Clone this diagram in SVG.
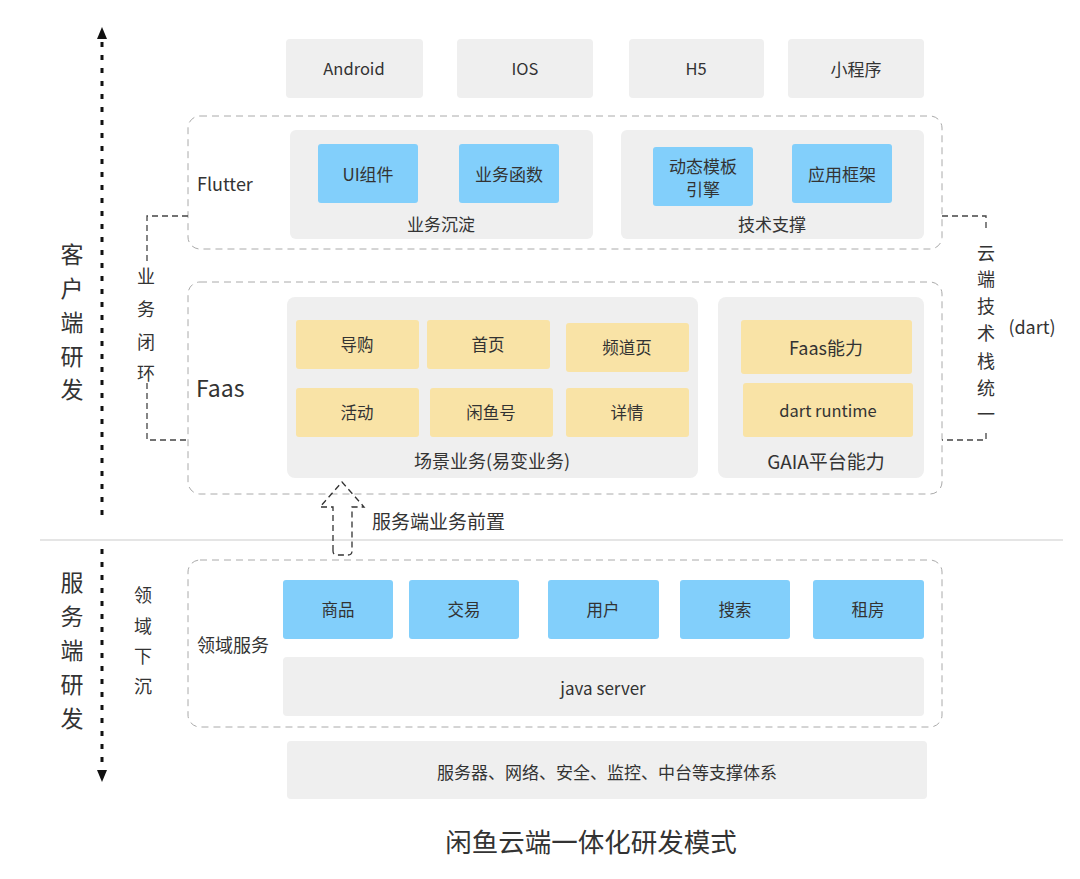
<svg xmlns="http://www.w3.org/2000/svg" width="1080" height="879" viewBox="0 0 1080 879">
<defs>
<style>
text{font-family:"Noto Sans CJK SC","Noto Sans",sans-serif;fill:#333;text-anchor:middle;dominant-baseline:central}
.g{fill:#efefef}
.b{fill:#82cffb}
.y{fill:#f9e3a6}
.c{fill:none;stroke:#aaa;stroke-width:1;stroke-dasharray:7 5}
.t{font-size:17px}
.s{font-size:16.5px}
.m{font-size:18px}
.l{text-anchor:start}
.d{fill:none;stroke:#444;stroke-width:1.3;stroke-dasharray:6 4}
.ax{fill:none;stroke:#111;stroke-width:3;stroke-dasharray:5 8}
</style>
</defs>
<rect width="1080" height="879" fill="#fff"/>

<g id="axes">
<line x1="102" y1="42" x2="102" y2="520" class="ax"/>
<polygon points="102,27 97,39 107,39" fill="#111"/>
<line x1="102" y1="549" x2="102" y2="768" class="ax"/>
<polygon points="102,782 97,770 107,770" fill="#111"/>
<line x1="40" y1="540" x2="1063" y2="540" stroke="#ccc" stroke-width="1.2"/>
<text x="72" font-size="23"><tspan x="72" y="253">客</tspan><tspan x="72" y="287">户</tspan><tspan x="72" y="321">端</tspan><tspan x="72" y="355">研</tspan><tspan x="72" y="388">发</tspan></text>
<text x="72" font-size="23"><tspan x="72" y="581">服</tspan><tspan x="72" y="615">务</tspan><tspan x="72" y="649">端</tspan><tspan x="72" y="683">研</tspan><tspan x="72" y="717">发</tspan></text>
<text x="143" font-size="18"><tspan x="143" y="594">领</tspan><tspan x="143" y="625">域</tspan><tspan x="143" y="655">下</tspan><tspan x="143" y="685">沉</tspan></text>
</g>

<g id="platforms">
<g id="android"><rect x="286" y="39" width="137" height="59" rx="4" class="g"/><text x="354" y="68" class="s">Android</text></g>
<g id="ios"><rect x="457" y="39" width="136" height="59" rx="4" class="g"/><text x="525" y="68" class="s">IOS</text></g>
<g id="h5"><rect x="629" y="39" width="135" height="59" rx="4" class="g"/><text x="696" y="68" class="s">H5</text></g>
<g id="miniprogram"><rect x="788" y="39" width="136" height="59" rx="4" class="g"/><text x="856" y="68" class="t">小程序</text></g>
</g>

<g id="flutter">
<rect x="188" y="116" width="754" height="133" rx="12" class="c"/>
<text x="197" y="183" class="m l">Flutter</text>
<g id="biz-settle">
<rect x="290" y="130" width="303" height="109" rx="6" class="g"/>
<text x="441" y="223" class="t">业务沉淀</text>
<g id="ui"><rect x="318" y="144" width="100" height="59" rx="3" class="b"/><text x="368" y="173" class="t">UI组件</text></g>
<g id="bizfunc"><rect x="459" y="144" width="100" height="59" rx="3" class="b"/><text x="509" y="173" class="t">业务函数</text></g>
</g>
<g id="tech-support">
<rect x="621" y="130" width="303" height="109" rx="6" class="g"/>
<text x="772" y="223" class="t">技术支撑</text>
<g id="engine"><rect x="653" y="147" width="100" height="59" rx="3" class="b"/><text x="703" y="165" class="t">动态模板</text><text x="703" y="188" class="t">引擎</text></g>
<g id="framework"><rect x="792" y="144" width="100" height="59" rx="3" class="b"/><text x="842" y="173" class="t">应用框架</text></g>
</g>
</g>

<g id="faas">
<rect x="188" y="282" width="754" height="212" rx="12" class="c"/>
<text x="196" y="387" font-size="23" class="l">Faas</text>
<g id="scene">
<rect x="287" y="297" width="411" height="181" rx="8" class="g"/>
<text x="492" y="460" class="m">场景业务(易变业务)</text>
<g id="daogou"><rect x="296" y="320" width="123" height="49" rx="3" class="y"/><text x="357" y="344" class="s">导购</text></g>
<g id="home"><rect x="427" y="320" width="123" height="49" rx="3" class="y"/><text x="488" y="344" class="s">首页</text></g>
<g id="channel"><rect x="566" y="323" width="123" height="49" rx="3" class="y"/><text x="627" y="347" class="s">频道页</text></g>
<g id="activity"><rect x="296" y="388" width="123" height="49" rx="3" class="y"/><text x="357" y="412" class="s">活动</text></g>
<g id="xianyuhao"><rect x="430" y="388" width="123" height="49" rx="3" class="y"/><text x="491" y="412" class="s">闲鱼号</text></g>
<g id="detail"><rect x="566" y="388" width="123" height="49" rx="3" class="y"/><text x="627" y="412" class="s">详情</text></g>
</g>
<g id="gaia">
<rect x="718" y="297" width="206" height="181" rx="8" class="g"/>
<text x="826" y="460" font-size="19">GAIA平台能力</text>
<g id="faas-cap"><rect x="741" y="320" width="171" height="54" rx="3" class="y"/><text x="826" y="347" class="m">Faas能力</text></g>
<g id="dart-rt"><rect x="743" y="383" width="170" height="54" rx="3" class="y"/><text x="828" y="410" class="s">dart runtime</text></g>
</g>
</g>

<g id="domain">
<rect x="188" y="560" width="754" height="167" rx="12" class="c"/>
<text x="197" y="644" class="m l">领域服务</text>
<g id="goods"><rect x="283" y="580" width="110" height="59" rx="3" class="b"/><text x="338" y="609" class="s">商品</text></g>
<g id="trade"><rect x="409" y="580" width="110" height="59" rx="3" class="b"/><text x="464" y="609" class="s">交易</text></g>
<g id="user"><rect x="548" y="580" width="111" height="59" rx="3" class="b"/><text x="603" y="609" class="s">用户</text></g>
<g id="search"><rect x="680" y="580" width="110" height="59" rx="3" class="b"/><text x="735" y="609" class="s">搜索</text></g>
<g id="rent"><rect x="813" y="580" width="111" height="59" rx="3" class="b"/><text x="868" y="609" class="s">租房</text></g>
<g id="java"><rect x="283" y="657" width="641" height="59" rx="4" class="g"/><text x="603" y="687" class="t">java server</text></g>
</g>

<g id="infra">
<rect x="287" y="741" width="640" height="58" rx="4" class="g"/>
<text x="607" y="771" class="t">服务器、网络、安全、监控、中台等支撑体系</text>
</g>

<g id="connectors">
<polyline points="188,216 147,216 147,262" class="d"/>
<polyline points="147,383 147,440 188,440" class="d"/>
<text x="146" font-size="18"><tspan x="146" y="275">业</tspan><tspan x="146" y="308">务</tspan><tspan x="146" y="341">闭</tspan><tspan x="146" y="372">环</tspan></text>
<polyline points="942,216 986,216 986,228" class="d"/>
<polyline points="986,433 986,440 942,440" class="d"/>
<text x="986" font-size="18"><tspan x="986" y="252">云</tspan><tspan x="986" y="278">端</tspan><tspan x="986" y="305">技</tspan><tspan x="986" y="332">术</tspan><tspan x="986" y="360">栈</tspan><tspan x="986" y="387">统</tspan><tspan x="986" y="413">一</tspan></text>
<text x="1032" y="326" class="m">(dart)</text>
<path d="M333,551 L333,507 L320,507 L342,482 L364,507 L352,507 L352,551 Q352,555 348,555 L337,555 Q333,555 333,551 Z" fill="none" stroke="#333" stroke-width="1.3" stroke-dasharray="6 4"/>
<text x="372" y="520" font-size="19" class="l">服务端业务前置</text>
</g>

<g id="title">
<text x="591" y="840" font-size="26.5">闲鱼云端一体化研发模式</text>
</g>
</svg>
